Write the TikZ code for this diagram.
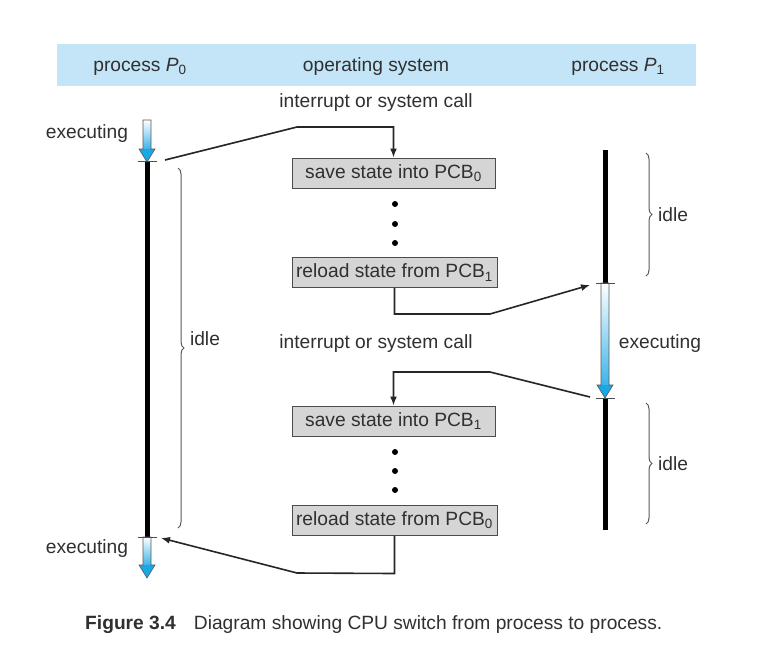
\documentclass[tikz,border=0pt]{standalone}
\usepackage{fontspec}
\setmainfont{Liberation Sans}
\usetikzlibrary{arrows.meta,decorations.pathreplacing,calc}
\definecolor{band}{HTML}{C3E5F7}
\definecolor{txt}{HTML}{303030}
\definecolor{boxfill}{HTML}{D5D5D5}
\definecolor{arrowblue}{HTML}{1AA7E6}
\newcommand\gradarrow[3]{%
  \shade[top color=white, bottom color=arrowblue!85]
    (#1-4,#2) rectangle (#1+4,#3-13);
  \fill[arrowblue] (#1-8,#3-13) -- (#1+8,#3-13) -- (#1,#3) -- cycle;
  \draw[black!65, line width=0.6pt, line join=miter]
    (#1-4,#2) -- (#1+4,#2) -- (#1+4,#3-13) -- (#1+8,#3-13) -- (#1,#3)
    -- (#1-8,#3-13) -- (#1-4,#3-13) -- cycle;}
\begin{document}
\begin{tikzpicture}[x=1pt,y=-1pt, font=\fontsize{19.2}{23}\selectfont, text=txt,
 lbl/.style={inner sep=0pt},
 osbox/.style={draw=black!70, fill=boxfill, line width=1pt, minimum width=203pt, minimum height=30pt, inner sep=0pt},
 conn/.style={line width=1.6pt, black!85},
 tip/.style={-{Latex[length=9pt,width=7pt]}},
 proc/.style={line width=5pt, black},
 tickmark/.style={line width=1pt, black!70},
 brc/.style={decorate, decoration={brace, amplitude=6pt}, draw=black!65, line width=1pt},
 dotmark/.style={circle, fill=black, inner sep=0pt, minimum size=6pt},
]
\useasboundingbox (0,0) rectangle (776,670);
\fill[white] (0,0) rectangle (776,670);
% header
\fill[band] (57,44) rectangle (696,86);
\node[lbl] (h0) at (140,67) {process \textit{P}\textsubscript{0}};
\node[lbl] (h1) at (376,67) {operating system};
\node[lbl] (h2) at (618,67) {process \textit{P}\textsubscript{1}};
% labels
\node[lbl] (int1) at (376,103) {interrupt or system call};
\node[lbl] (int2) at (376,344) {interrupt or system call};
\node[lbl] (ex0) at (87,134) {executing};
\node[lbl] (ex1) at (87,549) {executing};
\node[lbl] (ex2) at (660,344) {executing};
\node[lbl] (id0) at (205,339) {idle};
\node[lbl] (id1) at (673,215) {idle};
\node[lbl] (id2) at (673,464) {idle};
% OS boxes
\node[osbox] (s0) at (393.5,173) {save state into PCB\textsubscript{0}};
\node[osbox, minimum width=205pt] (r1) at (394.5,272.5) {reload state from PCB\textsubscript{1}};
\node[osbox] (s1) at (393.5,421) {save state into PCB\textsubscript{1}};
\node[osbox, minimum width=205pt] (r0) at (394.5,520) {reload state from PCB\textsubscript{0}};
\foreach \y [count=\i] in {204,224,243} \node[dotmark] (da\i) at (395,\y) {};
\foreach \y [count=\i] in {452,471,490} \node[dotmark] (db\i) at (395,\y) {};
% process timelines
\draw[proc] (147,161) -- (147,537);
\draw[proc] (605,150) -- (605,283);
\draw[proc] (605,398) -- (605,530);
\gradarrow{147}{120}{162}
\gradarrow{147}{537}{578}
\gradarrow{605}{283}{398}
\draw[tickmark] (138,161) -- (157,161);
\draw[tickmark] (138,537) -- (157,537);
\draw[tickmark] (596,283) -- (615,283);
\draw[tickmark] (596,398) -- (615,398);
% braces
\draw[brc] (178,168) -- (178,528);
\draw[brc] (646,153) -- (646,276);
\draw[brc] (646,403) -- (646,524);
% connectors
\coordinate (p0out) at (165,160);
\coordinate (p1in) at (590,285);
\coordinate (p1out) at (590,397);
\coordinate (p0in) at (161,538);
\draw[conn,tip] (p0out) -- (297,127) -| (s0.north);
\draw[conn,tip] (r1.south) -- ++(0,26) -- (490,314) -- (p1in);
\draw[conn,tip] (p1out) -- (490,372) -| (s1.north);
\draw[conn,tip] (r0.south) -- ++(0,38) -- (297,573) -- (p0in);
% caption
\node[lbl, anchor=west] (cap) at (85,625) {\textbf{Figure 3.4}\hspace{18pt}Diagram showing CPU switch from process to process.};
\end{tikzpicture}
\end{document}
